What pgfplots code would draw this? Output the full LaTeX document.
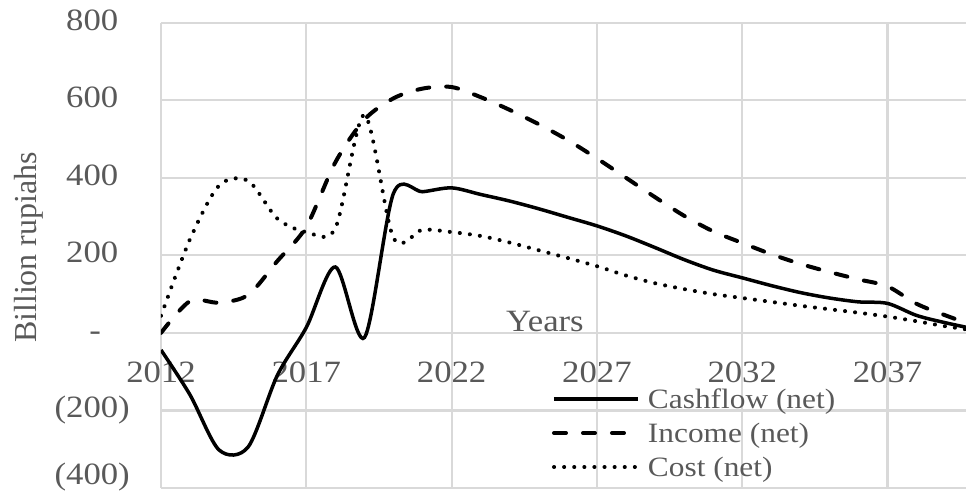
\documentclass[border=0pt]{standalone}
\usepackage{fontspec}
\setmainfont{Liberation Serif}[FakeStretch=1.12]
\newfontfamily\plainserif{Liberation Serif}
\usepackage{pgfplots}
\usepackage{pgfplotstable}
\pgfplotsset{compat=1.18}
\definecolor{tickgray}{RGB}{89,89,89}
\definecolor{gridgray}{RGB}{217,217,217}

\pgfplotstableread{
year cash income cost
2012 -44 0 44
2013 -160 82 242
2014 -302 78 380
2015 -294 98 392
2016 -110 185 295
2017 14 274 260
2018 170 440 270
2019 -12 550 562
2020 360 605 245
2021 364 630 266
2022 374 634 260
2023 357 608 250
2024 340 575 233
2025 320 538 213
2026 298 497 193
2027 276 450 172
2028 250 400 148
2029 220 350 128
2030 189 302 113
2031 162 262 100
2032 142 232 90
2033 122 203 80
2034 104 178 70
2035 90 157 61
2036 80 138 52
2037 76 120 42
2038 45 75 30
2039 26 45 17
2040 10 18 6
}\datatable

\begin{document}
\begin{tikzpicture}
\begin{axis}[
  scale only axis, width=805pt, height=465.3pt,
  xmin=2012, xmax=2039.7, ymin=-400, ymax=800,
  axis line style={draw=none},
  major tick length=0pt,
  xtick={2012,2017,2022,2027,2032,2037},
  xticklabels={2012,2017,2022,2027,2032,2037},
  ytick={-200,0,200,400,600,800},
  yticklabels={(200),-\phantom{0)},200\phantom{)},400\phantom{)},600\phantom{)},800\phantom{)}},
  extra y ticks={-400}, extra y tick labels={(400)},
  extra y tick style={grid=major, yticklabel style={yshift=11pt}},
  grid=major,
  major grid style={draw=gridgray, line width=2.2pt},
  tick label style={font=\fontsize{31}{37}\selectfont, text=tickgray},
  xticklabel style={anchor=center, inner sep=0pt, yshift=116pt},
  yticklabel style={anchor=east, inner sep=0pt, xshift=-31pt},
  xlabel={Years},
  xlabel style={at={(axis description cs:0.477,0.3333)}, anchor=base, inner sep=0pt, yshift=1.5pt, font=\fontsize{31}{37}\selectfont, text=tickgray},
  ylabel={Billion rupiahs},
  ylabel style={at={(axis description cs:-0.1646,0.517)}, anchor=center, inner sep=0pt, font=\plainserif\fontsize{32}{38}\selectfont, text=tickgray},
  legend style={at={(axis description cs:0.4857,0.218)}, anchor=north west, draw=none, fill=none, inner sep=0pt, outer sep=0pt, font=\fontsize{28}{33}\selectfont, text=tickgray, row sep=9pt, column sep=8pt, nodes={inner sep=0pt, text height=22pt, text depth=3pt}},
  legend cell align=left,
  legend image code/.code={\draw[#1] (0pt,0pt) -- (84pt,0pt);},
]
\addplot[black, line width=3.5pt, smooth, tension=0.5] table[x=year,y=cash]{\datatable};
\addlegendentry{Cashflow (net)}
\addplot[black, line width=4pt, smooth, tension=0.5, dash pattern=on 12pt off 17pt, line cap=round] table[x=year,y=income]{\datatable};
\addlegendentry{Income (net)}
\addplot[black, line width=4pt, smooth, tension=0.5, dash pattern=on 0.1pt off 10pt, line cap=round] table[x=year,y=cost]{\datatable};
\addlegendentry{Cost (net)}
\end{axis}
\pgfresetboundingbox
\path[use as bounding box] (-161pt,-6pt) rectangle (805pt,488pt);
\end{tikzpicture}
\end{document}
